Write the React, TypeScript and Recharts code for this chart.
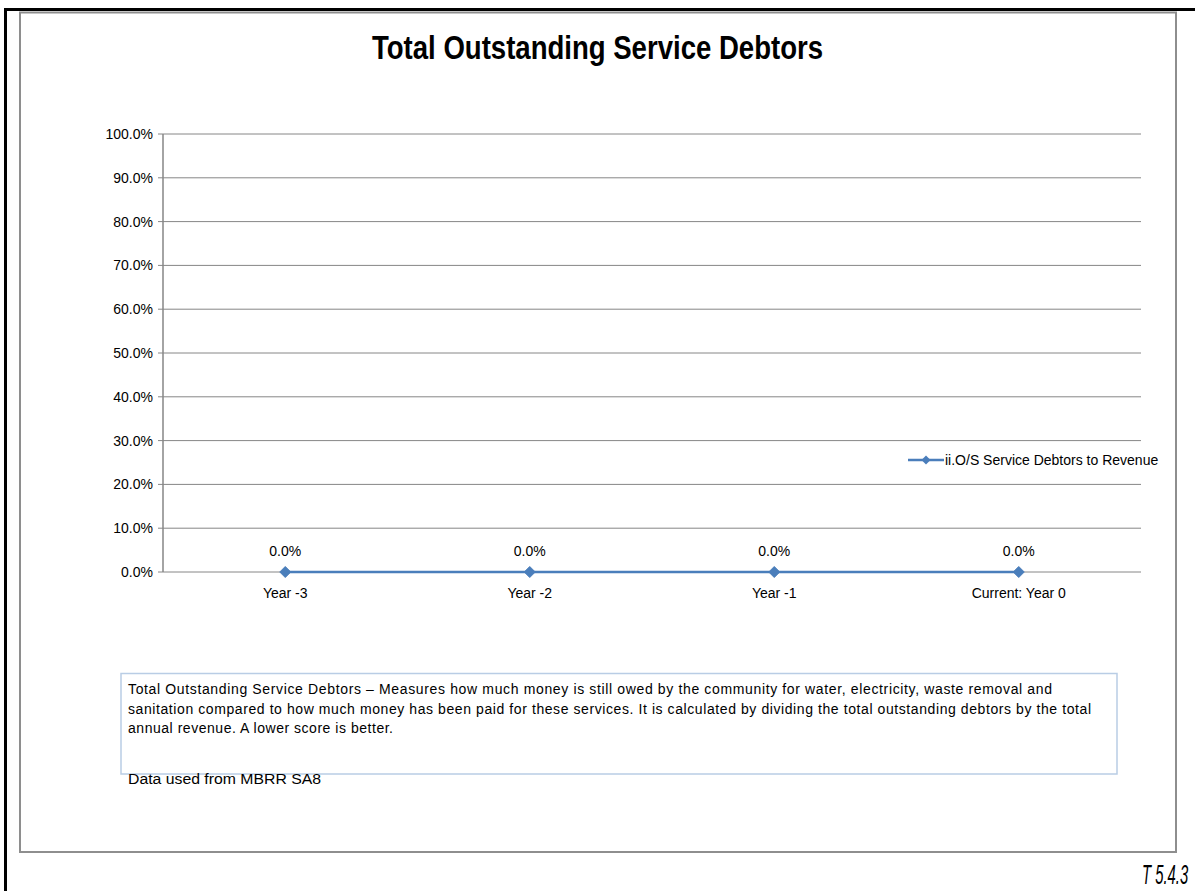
import React from 'react';
import { LineChart, Line, XAxis, YAxis, CartesianGrid, LabelList, Legend } from 'recharts';

const categories = ['Year -3', 'Year -2', 'Year -1', 'Current: Year 0'];
const debtorsToRevenue = [0, 0, 0, 0];
const yTicks = [0, 0.1, 0.2, 0.3, 0.4, 0.5, 0.6, 0.7, 0.8, 0.9, 1.0];
const boundaryTicks = [0, 1, 2, 3, 4];
const seriesName = 'ii.O/S Service Debtors to Revenue';
const chartTitle = 'Total Outstanding Service Debtors';
const noteLines = [
  'Total Outstanding Service Debtors \u2013 Measures how much money is still owed by the community for water, electricity, waste removal and',
  'sanitation compared to how much money has been paid for these services. It is calculated by dividing the total outstanding debtors by the total',
  'annual revenue. A lower score is better.',
];
const noteLineWidths = [924, 963, 265];
const noteSource = 'Data used from MBRR SA8';
const tableRef = 'T 5.4.3';

const data = categories.map((c, i) => ({ category: c, value: debtorsToRevenue[i] }));

const FONT = '"Liberation Sans", Arial, sans-serif';
const BLUE = '#4a7ebb';
const GRAY = '#868686';

const pct = (v: any) => `${(Number(v) * 100).toFixed(1)}%`;

const Diamond = (props: any) => {
  const { cx, cy } = props;
  if (cx == null || cy == null) return null;
  const r = 5.5;
  return (
    <polygon
      points={`${cx},${cy - r} ${cx + r},${cy} ${cx},${cy + r} ${cx - r},${cy}`}
      fill={BLUE}
      stroke={BLUE}
    />
  );
};

const LegendContent = () => (
  <svg width={270} height={20} style={{ overflow: 'visible' }}>
    <line x1={0} y1={10} x2={36} y2={10} stroke={BLUE} strokeWidth={2.5} />
    <polygon points="18,5.5 22.5,10 18,14.5 13.5,10" fill={BLUE} />
    <text x={37} y={14.8} fontSize={14} fontFamily={FONT} fill="#000">
      {seriesName}
    </text>
  </svg>
);

export default function App() {
  return (
    <div style={{ position: 'absolute', left: 0, top: 0, width: 1195, height: 891, background: '#fff', overflow: 'hidden' }}>
      <svg width={1195} height={891} style={{ position: 'absolute', left: 0, top: 0 }}>
        <rect x={4} y={8} width={1191} height={3} fill="#000" />
        <rect x={4} y={8} width={3} height={883} fill="#000" />
        <rect x={20} y={12.5} width={1156} height={839.5} fill="none" stroke="#8e8e8e" strokeWidth={2} />
        <text
          x={597.5}
          y={59}
          textAnchor="middle"
          fontFamily={FONT}
          fontWeight="bold"
          fontSize={34}
          textLength={451}
          lengthAdjust="spacingAndGlyphs"
          fill="#000"
        >
          {chartTitle}
        </text>
        <rect x={121} y={673.5} width={996} height={100.5} fill="none" stroke="#b9cde5" strokeWidth={1.5} />
        {noteLines.map((t, i) => (
          <text
            key={i}
            x={128}
            y={694 + i * 19.5}
            fontFamily={FONT}
            fontSize={14}
            textLength={noteLineWidths[i]}
            lengthAdjust="spacing"
            fill="#000"
          >
            {t}
          </text>
        ))}
        <text x={128} y={784} fontFamily={FONT} fontSize={14} textLength={193} lengthAdjust="spacingAndGlyphs" fill="#000">
          {noteSource}
        </text>
        <g transform="translate(1142,884) scale(0.53,1)">
          <text x={0} y={0} fontFamily={FONT} fontStyle="italic" fontSize={28} fill="#000">
            {tableRef}
          </text>
        </g>
      </svg>
      <div style={{ position: 'absolute', left: 0, top: 0 }}>
        <LineChart
          width={1195}
          height={891}
          data={data}
          margin={{ top: 134, right: 54, bottom: 289, left: 103 }}
          style={{ fontFamily: FONT }}
        >
          <CartesianGrid vertical={false} stroke={GRAY} strokeWidth={1} />
          <XAxis
            xAxisId="bounds"
            type="number"
            domain={[0, 4]}
            ticks={boundaryTicks}
            allowDataOverflow
            tick={false}
            height={0}
            tickSize={5}
            stroke={GRAY}
            axisLine={{ stroke: GRAY, strokeWidth: 1.5 }}
            tickLine={{ stroke: GRAY, strokeWidth: 1.5 }}
          />
          <XAxis
            xAxisId="cat"
            dataKey="category"
            scale="band"
            height={30}
            axisLine={false}
            tickLine={false}
            tickSize={6}
            tickMargin={10}
            interval={0}
            tick={{ fill: '#000', fontSize: 14, fontFamily: FONT }}
          />
          <YAxis
            domain={[0, 1]}
            ticks={yTicks}
            width={60}
            tickSize={5}
            tickMargin={5}
            tickFormatter={pct}
            interval={0}
            stroke={GRAY}
            axisLine={{ stroke: GRAY, strokeWidth: 1.5 }}
            tickLine={{ stroke: GRAY, strokeWidth: 1 }}
            tick={{ fill: '#000', fontSize: 14, fontFamily: FONT }}
          />
          <Legend
            layout="vertical"
            align="center"
            verticalAlign="middle"
            content={<LegendContent />}
            wrapperStyle={{ left: 908, top: 450, width: 270, height: 20 }}
          />
          <Line
            xAxisId="cat"
            type="linear"
            dataKey="value"
            name={seriesName}
            stroke={BLUE}
            strokeWidth={2.5}
            dot={<Diamond />}
            activeDot={false}
            isAnimationActive={false}
          >
            <LabelList dataKey="value" position="top" offset={16} formatter={pct} fill="#000" fontSize={14} fontFamily={FONT} />
          </Line>
        </LineChart>
      </div>
    </div>
  );
}
